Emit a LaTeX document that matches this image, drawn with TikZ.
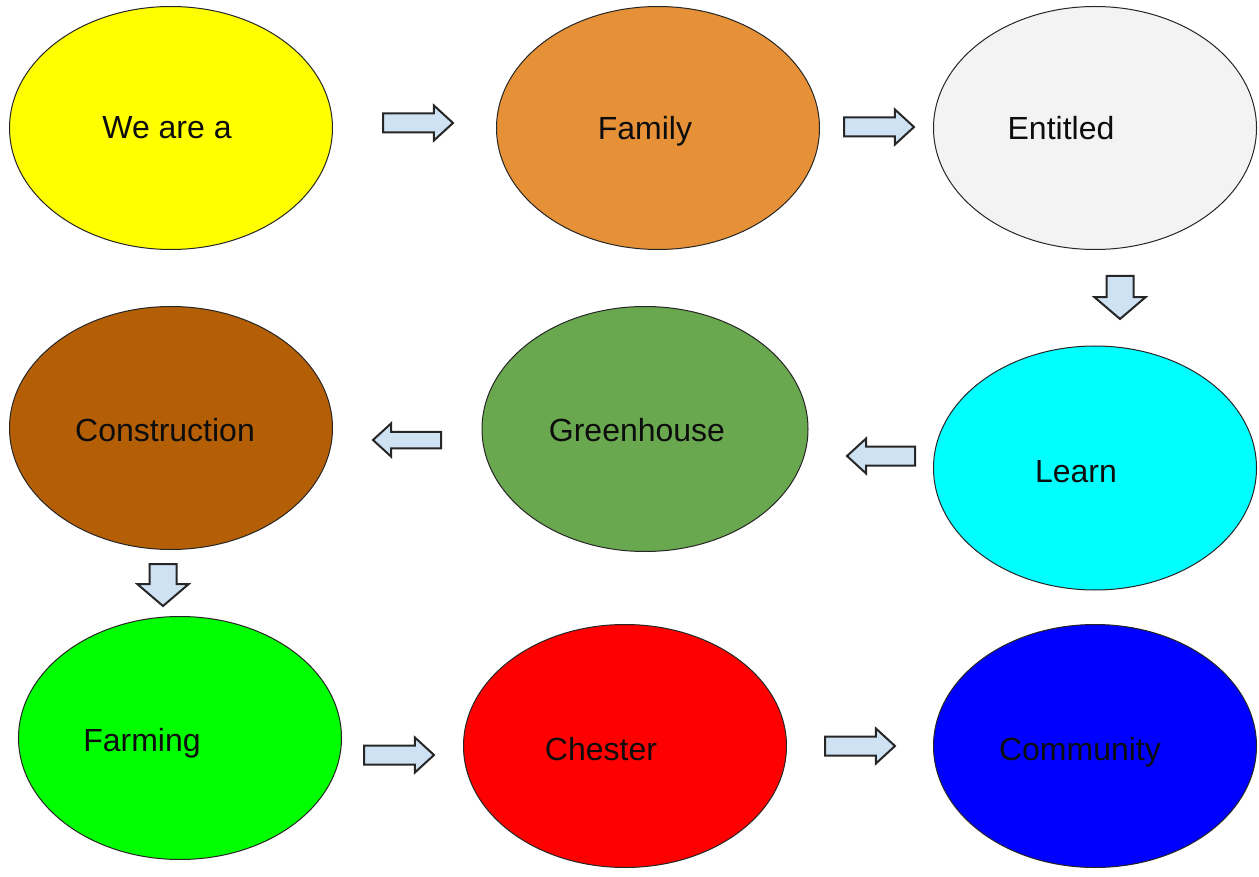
\documentclass[tikz,border=0pt]{standalone}
\usepackage{fontspec}
\setmainfont{Liberation Sans}
\usetikzlibrary{shapes.geometric,shapes.arrows}

\definecolor{yellowW}{HTML}{FFFF00}
\definecolor{orangeF}{HTML}{E69138}
\definecolor{greyE}{HTML}{F3F3F3}
\definecolor{cyanL}{HTML}{00FFFF}
\definecolor{greenG}{HTML}{6AA84F}
\definecolor{brownC}{HTML}{B45F06}
\definecolor{limeF}{HTML}{00FF00}
\definecolor{redC}{HTML}{FF0000}
\definecolor{blueC}{HTML}{0000FF}
\definecolor{blueA}{HTML}{CFE2F3}

\begin{document}
\begin{tikzpicture}[x=0.5pt, y=-0.5pt,
        blob/.style={ellipse, draw=black!85, line width=0.5pt, inner sep=0pt,
            minimum width=161.5pt, minimum height=121.5pt},
        txt/.style={font=\fontsize{16}{19}\selectfont, text=black!95, inner sep=0pt, anchor=base},
        harrow/.style={single arrow, draw=black!85, fill=blueA, line width=1pt, anchor=tail,
            inner sep=4.25pt, single arrow head extend=4pt, single arrow tip angle=85,
            minimum height=35pt, minimum width=16.5pt},
        varrow/.style={single arrow, draw=black!85, fill=blueA, line width=1pt, anchor=tail,
            inner sep=6.25pt, single arrow head extend=6pt, single arrow tip angle=99,
            minimum height=21.5pt, minimum width=24.5pt, shape border rotate=270}]
        \useasboundingbox (0, 0) rectangle (1259, 877);
        % top row
        \node[blob, fill=yellowW] (we) at (171, 128) {};
        \node[blob, fill=orangeF] (family) at (658, 128) {};
        \node[blob, fill=greyE] (entitled) at (1095, 128) {};
        % middle row
        \node[blob, fill=cyanL, minimum height=122pt] (learn) at (1095, 468) {};
        \node[blob, fill=greenG, minimum width=163pt, minimum height=122.5pt] (greenhouse) at (645, 429) {};
        \node[blob, fill=brownC] (construction) at (171, 428) {};
        % bottom row
        \node[blob, fill=limeF] (farming) at (180, 738) {};
        \node[blob, fill=redC] (chester) at (625, 746) {};
        \node[blob, fill=blueC] (community) at (1095, 746) {};
        % labels, on their baselines
        \node[txt] (we-t) at (167, 139) {We are a};
        \node[txt] (family-t) at (645, 140) {Family};
        \node[txt] (entitled-t) at (1061, 140) {Entitled};
        \node[txt] (learn-t) at (1076, 482) {Learn};
        \node[txt] (greenhouse-t) at (637, 441) {Greenhouse};
        \node[txt] (construction-t) at (165, 441) {Construction};
        \node[txt] (farming-t) at (142, 751) {Farming};
        \node[txt] (chester-t) at (601, 760) {Chester};
        \node[txt] (community-t) at (1080, 760) {Community};
        % block arrows, placed by their tails
        \node[harrow] (a1) at (382, 123) {};
        \node[harrow] (a2) at (843, 127) {};
        \node[varrow] (a3) at (1120, 275) {};
        \node[harrow, shape border rotate=180, minimum height=34pt] (a4) at (916, 456) {};
        \node[harrow, shape border rotate=180, minimum height=34pt, inner sep=3.5pt] (a5) at (442, 440) {};
        \node[varrow, minimum height=21pt] (a6) at (163, 563) {};
        \node[harrow] (a7) at (363, 755) {};
        \node[harrow] (a8) at (824, 746) {};
    \end{tikzpicture}
\end{document}
